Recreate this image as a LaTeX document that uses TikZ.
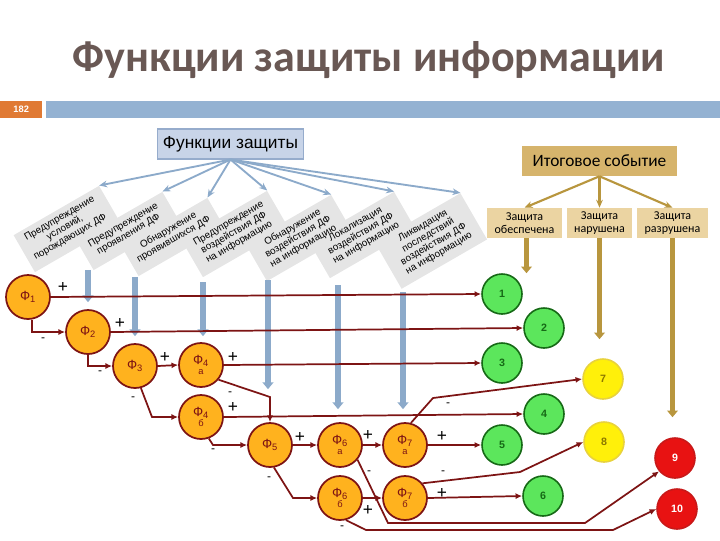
\documentclass[tikz,border=0pt]{standalone}
\usepackage{fontspec}
\setmainfont{Liberation Sans}
\newfontfamily\carlitofont{Carlito}
\usetikzlibrary{arrows.meta,calc}
\definecolor{titlec}{RGB}{105,88,84}
\definecolor{orbox}{RGB}{224,122,52}
\definecolor{barc}{RGB}{148,178,210}
\definecolor{fzfill}{RGB}{200,212,232}
\definecolor{fzdraw}{RGB}{150,172,204}
\definecolor{bluec}{RGB}{140,170,202}
\definecolor{goldc}{RGB}{184,150,62}
\definecolor{itfill}{RGB}{214,180,108}
\definecolor{zfill}{RGB}{235,212,162}
\definecolor{orfill}{RGB}{255,178,30}
\definecolor{dred}{RGB}{125,20,20}
\definecolor{grfill}{RGB}{92,230,92}
\definecolor{grdraw}{RGB}{22,105,22}
\definecolor{yefill}{RGB}{255,240,10}
\definecolor{yedraw}{RGB}{232,210,60}
\definecolor{yetext}{RGB}{140,120,0}
\definecolor{rdfill}{RGB}{232,18,18}
\definecolor{rddraw}{RGB}{200,25,25}
\tikzset{
  gfill/.style={fill=gray!20, rotate=30, inner sep=0pt, minimum width=74pt},
  gtext/.style={rotate=30, align=center, inner sep=0pt,
    font=\fontsize{7.4}{8}\selectfont},
  farrow/.style={draw=bluec, line width=1.4pt, -{Stealth[length=6pt,width=5pt]}},
  barrow/.style={draw=bluec, line width=4pt, -{Triangle[length=5pt,width=8pt]}},
  garrow/.style={draw=goldc, line width=3.6pt, -{Triangle[length=5pt,width=8pt]}},
  gtarrow/.style={draw=goldc, line width=1.6pt, -{Stealth[length=6pt,width=5pt]}},
  phi/.style={circle, fill=orfill, draw=dred, line width=1.3pt, minimum size=33pt,
    inner sep=0pt, align=center, text=dred, font=\fontsize{10}{9}\selectfont},
  grn/.style={circle, fill=grfill, draw=grdraw, line width=1.2pt, minimum size=30pt,
    inner sep=0pt, text=grdraw, font=\bfseries\fontsize{8}{8}\selectfont},
  yel/.style={circle, fill=yefill, draw=yedraw, line width=1.2pt, minimum size=30pt,
    inner sep=0pt, text=yetext, font=\bfseries\fontsize{8}{8}\selectfont},
  rdc/.style={circle, fill=rdfill, draw=rddraw, line width=1.2pt, minimum size=30pt,
    inner sep=0pt, text=white, font=\bfseries\fontsize{8}{8}\selectfont},
  con/.style={draw=dred, line width=1.3pt, -{Latex[length=5pt,width=4.5pt]}},
  pl/.style={inner sep=0pt, font=\fontsize{13}{13}\selectfont},
  mn/.style={inner sep=0pt, font=\fontsize{9}{9}\selectfont},
  zbox/.style={fill=zfill, minimum height=22.5pt, align=center, inner sep=1pt,
    font=\carlitofont\fontsize{9}{9.5}\selectfont}
}
\newcommand{\lett}[1]{\\[-2pt]{\fontsize{7}{7}\selectfont #1}}
\begin{document}
\begin{tikzpicture}[x=0.75pt,y=-0.75pt]
\useasboundingbox (0,0) rectangle (720,540);
% header
\node[font=\carlitofont\bfseries\fontsize{33}{36}\selectfont, text=titlec] (title) at (369,60) {Функции защиты информации};
\fill[barc] (46,101) rectangle (720,118);
\node[fill=orbox, anchor=north west, minimum width=31.5pt, minimum height=12.75pt, inner sep=0pt,
  text=white, font=\bfseries\fontsize{7}{7}\selectfont] (num) at (0,101) {182};
% functions box
\node[draw=fzdraw, fill=fzfill, line width=0.8pt, minimum width=110pt, minimum height=22.5pt, inner sep=0pt,
  font=\fontsize{13}{13}\selectfont] (fz) at (230.5,144) {Функции защиты};
% rotated boxes: fills first, then texts
\node[gfill, minimum height=32pt] (b1) at (67,229) {};
\node[gfill, minimum height=25pt] (b2) at (128,231) {};
\node[gfill, minimum height=25pt] (b3) at (173,237) {};
\node[gfill, minimum height=32pt] (b4) at (235,234) {};
\node[gfill, minimum height=32pt] (b5) at (299,238) {};
\node[gfill, minimum height=32pt] (b6) at (362,235) {};
\node[gfill, minimum height=40pt] (b7) at (431,241) {};
\node[gtext] (t1) at (65,228) {Предупреждение\\условий,\\порождающих ДФ};
\node[gtext] (t2) at (126,230) {Предупреждение\\проявления ДФ};
\node[gtext] (t3) at (171,235) {Обнаружение\\проявившихся ДФ};
\node[gtext] (t4) at (234,233) {Предупреждение\\воздействия ДФ\\на информацию};
\node[gtext] (t5) at (298,237) {Обнаружение\\воздействия ДФ\\на информацию};
\node[gtext] (t6) at (361,234) {Локализация\\воздействия ДФ\\на информацию};
\node[gtext] (t7) at (431,240) {Ликвидация\\последствий\\воздействия ДФ\\на информацию};
\foreach \b in {b1,b2,b3,b4,b5,b6,b7} \draw[farrow] (fz.south) -- (\b.north east);
% final event
\node[fill=itfill, minimum width=116.25pt, minimum height=22.5pt, inner sep=0pt,
  font=\carlitofont\fontsize{13}{13}\selectfont] (it) at (599.5,161) {Итоговое событие};
\node[zbox, minimum width=56.25pt] (zo) at (524.5,223) {Защита\\обеспечена};
\node[zbox, minimum width=48.75pt] (zn) at (599.5,223) {Защита\\нарушена};
\node[zbox, minimum width=53.25pt] (zr) at (672.5,223) {Защита\\разрушена};
\draw[gtarrow] (it.south) -- (zo.north);
\draw[gtarrow] (it.south) -- (zn.north);
\draw[gtarrow] (it.south) -- (zr.north);
% phi nodes
\node[phi] (f1) at (28,297) {Ф\textsubscript{1}};
\node[phi] (f2) at (88,332) {Ф\textsubscript{2}};
\node[phi] (f3) at (135,366) {Ф\textsubscript{3}};
\node[phi] (f4a) at (201,365) {Ф\textsubscript{4}\lett{а}};
\node[phi] (f4b) at (201,417) {Ф\textsubscript{4}\lett{б}};
\node[phi] (f5) at (270,445) {Ф\textsubscript{5}};
\node[phi] (f6a) at (340,445) {Ф\textsubscript{6}\lett{а}};
\node[phi] (f7a) at (405,445) {Ф\textsubscript{7}\lett{а}};
\node[phi] (f6b) at (340,498) {Ф\textsubscript{6}\lett{б}};
\node[phi] (f7b) at (405,498) {Ф\textsubscript{7}\lett{б}};
% outcome nodes
\node[grn] (g1) at (502,294) {1};
\node[grn] (g2) at (544,328) {2};
\node[grn] (g3) at (502,363) {3};
\node[grn] (g4) at (544,414) {4};
\node[grn] (g5) at (502,445) {5};
\node[grn] (g6) at (543,496) {6};
\node[yel] (y7) at (603,379) {7};
\node[yel] (y8) at (604,442) {8};
\node[rdc] (r9) at (675,458) {9};
\node[rdc] (r10) at (677,509) {10};
% blue arrows
\draw[barrow, shorten >=5.25pt] (f2.north |- 0,270) -- (f2.north);
\draw[barrow, shorten >=5.25pt] (f3.north |- 0,277) -- (f3.north);
\draw[barrow, shorten >=4.5pt] ([xshift=1.5pt]f4a.north |- 0,282) -- ([xshift=1.5pt]f4a.north);
\draw[barrow, shorten >=24.75pt] ([xshift=-1.5pt]f5.north |- 0,280) -- ([xshift=-1.5pt]f5.north);
\draw[barrow, shorten >=9.75pt] ([xshift=-1.5pt]f6a.north |- 0,285) -- ([xshift=-1.5pt]f6a.north);
\draw[barrow, shorten >=9.75pt] ([xshift=-1.5pt]f7a.north |- 0,292) -- ([xshift=-1.5pt]f7a.north);
% gold arrows
\draw[garrow] ([xshift=1.5pt]zo.south) -- ([xshift=1.5pt]zo.south |- g1.north);
\draw[garrow, shorten >=14.25pt] (zn.south) -- (zn.south |- y7.north);
\draw[garrow, shorten >=15pt] (zr.south) -- (zr.south |- r9.north);
% connectors
\draw[con] (f1.east) -- (g1.west);
\draw[con] (f1.-80) |- (f2.west);
\draw[con] (f2.east) -- (g2.west);
\draw[con] (f2.south) |- (f3.west);
\draw[con] (f3.east) -- (f4a.west);
\draw[con] (f3.-75) -- (152,417) -- (f4b.west);
\draw[con] (f4a.east) -- (g3.west);
\draw[con] (f4a.-40) -- (270,397) -- (f5.north);
\draw[con] (f4b.east) -- (g4.west);
\draw[con] (f4b.-70) -- (213,445) -- (f5.west);
\draw[con] (f5.east) -- (f6a.west);
\draw[con] (f5.-80) -- (293,498) -- (f6b.west);
\draw[con] (f6a.east) -- (f7a.west);
\draw[con] (f6a.-40) -- (388,523) -- (585,523) -- (r9.-140);
\draw[con] (f6b.east) -- (f7b.west);
\draw[con] (f6b.-75) -- (366,530) -- (613,530) -- (r10.west);
\draw[con] (f7a.east) -- (g5.west);
\draw[con] (f7a.75) -- (433,398) -- (y7.west);
\draw[con] (f7b.east) -- (g6.west);
\draw[con] (f7b.40) -- (520,472) -- (y8.west);
% plus / minus labels
\node[pl] at (63,287) {+};
\node[mn] at (43,340) {-};
\node[pl] at (120,323) {+};
\node[mn] at (100,373) {-};
\node[pl] at (165,357) {+};
\node[mn] at (133,399) {-};
\node[pl] at (233,357) {+};
\node[mn] at (230,394) {-};
\node[pl] at (233,407) {+};
\node[mn] at (213,451) {-};
\node[pl] at (300,437) {+};
\node[mn] at (269,479) {-};
\node[pl] at (368,435) {+};
\node[mn] at (369,473) {-};
\node[pl] at (442,436) {+};
\node[mn] at (448,405) {-};
\node[pl] at (368,510) {+};
\node[mn] at (342,528) {-};
\node[pl] at (442,493) {+};
\node[mn] at (443,473) {-};
\end{tikzpicture}
\end{document}
